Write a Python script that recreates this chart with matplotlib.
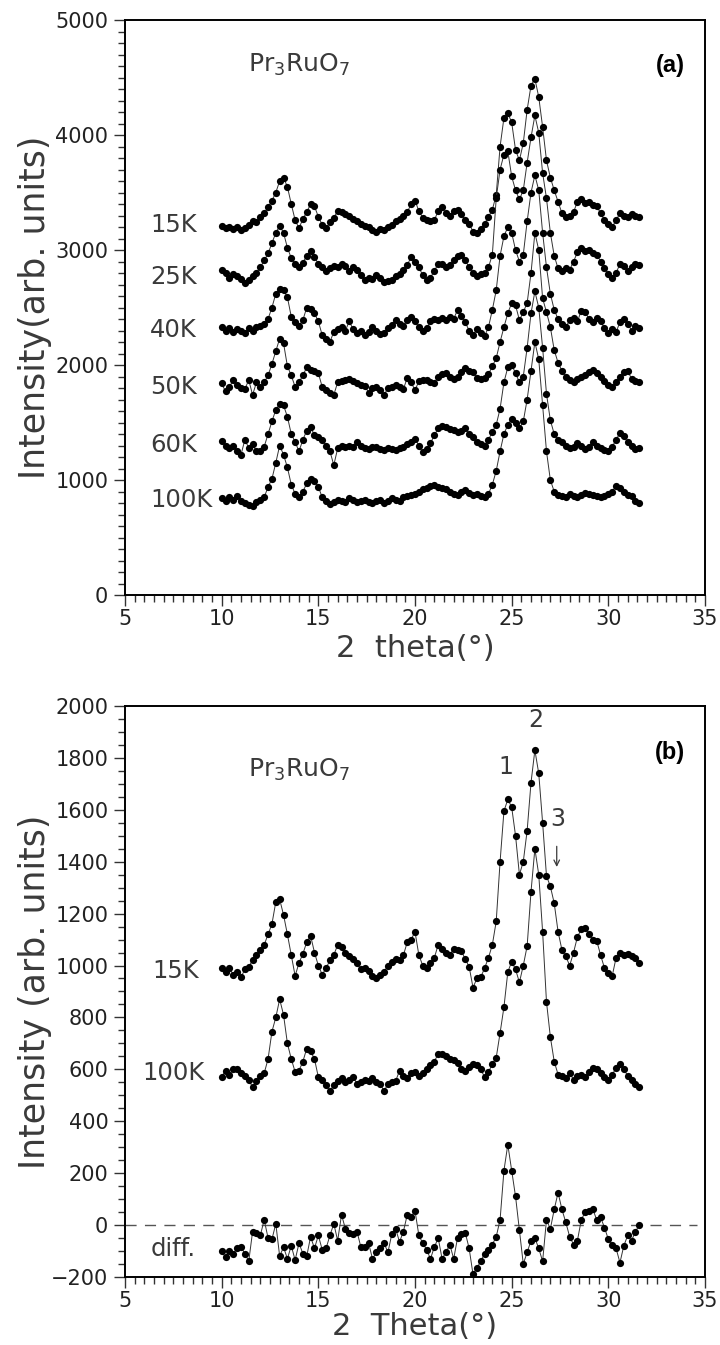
"""Pr3RuO7 powder diffraction scans at several temperatures, two stacked panels."""

import matplotlib

matplotlib.use("Agg")

import matplotlib.pyplot as plt
import numpy as np
from matplotlib.ticker import MultipleLocator

plt.rcParams["font.family"] = ["DejaVu Sans"]
plt.rcParams["mathtext.default"] = "regular"

TWO_THETA_START = 10.0
TWO_THETA_STEP = 0.2

# ---- panel (a): intensity vs 2 theta, one row per degree (x.0 x.2 x.4 x.6 x.8)
A_LABELS = ["15K", "25K", "40K", "50K", "60K", "100K"]
A_LABEL_Y = [3217, 2765, 2304, 1809, 1304, 826]

A_15K = [
    3210, 3190, 3200, 3180, 3200,
    3170, 3190, 3220, 3250, 3240,
    3290, 3320, 3370, 3430, 3500,
    3600, 3630, 3550, 3400, 3260,
    3190, 3270, 3330, 3400, 3380,
    3290, 3220, 3190, 3240, 3280,
    3340, 3330, 3310, 3300, 3270,
    3250, 3230, 3210, 3200, 3170,
    3160, 3180, 3170, 3200, 3220,
    3250, 3270, 3300, 3330, 3400,
    3430, 3340, 3280, 3260, 3250,
    3260, 3340, 3370, 3320, 3300,
    3340, 3350, 3310, 3260, 3230,
    3160, 3150, 3180, 3230, 3290,
    3350, 3480, 3900, 4150, 4190,
    4110, 3870, 3780, 3930, 4220,
    4430, 4490, 4330, 4070, 3780,
    3630, 3520, 3420, 3320, 3290,
    3300, 3330, 3420, 3440, 3410,
    3420, 3390, 3380, 3320, 3260,
    3230, 3200, 3260, 3320, 3300,
    3290, 3310, 3300, 3290,
]
A_25K = [
    2830, 2800, 2760, 2790, 2770,
    2750, 2710, 2740, 2770, 2800,
    2850, 2910, 2970, 3060, 3150,
    3210, 3150, 3020, 2930, 2880,
    2850, 2890, 2950, 2990, 2940,
    2880, 2850, 2820, 2840, 2860,
    2850, 2880, 2860, 2820, 2850,
    2830, 2780, 2740, 2760, 2750,
    2780, 2760, 2720, 2730, 2740,
    2770, 2790, 2830, 2870, 2940,
    2900, 2850, 2780, 2740, 2760,
    2820, 2880, 2880, 2850, 2870,
    2910, 2950, 2960, 2910, 2850,
    2800, 2770, 2790, 2800, 2850,
    2960, 3450, 3700, 3830, 3860,
    3640, 3520, 3440, 3520, 3760,
    3980, 4170, 4020, 3670, 3450,
    3150, 2950, 2840, 2820, 2840,
    2830, 2900, 2980, 3020, 2990,
    3000, 2970, 2960, 2900, 2840,
    2790, 2760, 2800, 2880, 2860,
    2820, 2850, 2880, 2870,
]
A_40K = [
    2330, 2300, 2320, 2290, 2310,
    2300, 2280, 2320, 2300, 2330,
    2340, 2360, 2400, 2500, 2620,
    2660, 2650, 2590, 2420, 2370,
    2340, 2390, 2500, 2490, 2450,
    2380, 2260, 2230, 2200, 2290,
    2310, 2330, 2300, 2380, 2310,
    2280, 2300, 2260, 2290, 2330,
    2300, 2270, 2280, 2320, 2350,
    2390, 2360, 2340, 2390, 2420,
    2380, 2330, 2300, 2320, 2380,
    2400, 2390, 2410, 2390, 2420,
    2400, 2480, 2430, 2370, 2300,
    2260, 2310, 2280, 2250, 2330,
    2480, 2650, 2950, 3120, 3200,
    3150, 3000, 2900, 2960, 3250,
    3500, 3650, 3520, 3150, 2850,
    2620, 2480, 2400, 2360, 2330,
    2390, 2410, 2380, 2470, 2460,
    2400, 2370, 2410, 2380, 2320,
    2280, 2310, 2290, 2370, 2400,
    2360, 2300, 2340, 2320,
]
A_50K = [
    1840, 1770, 1810, 1870, 1830,
    1800, 1790, 1870, 1740, 1850,
    1810, 1850, 1910, 2010, 2120,
    2230, 2190, 1990, 1910, 1810,
    1850, 1910, 1980, 1960, 1950,
    1930, 1810, 1780, 1760, 1740,
    1850, 1860, 1870, 1880, 1860,
    1840, 1830, 1820, 1760, 1800,
    1810, 1780, 1740, 1800, 1810,
    1830, 1810, 1790, 1890, 1850,
    1780, 1860, 1870, 1870, 1850,
    1840, 1900, 1920, 1930, 1900,
    1880, 1900, 1940, 1970, 1950,
    1940, 1890, 1880, 1890, 1920,
    1990, 2060, 2200, 2330, 2450,
    2540, 2520, 2390, 2460, 2540,
    2800, 3150, 3000, 2580, 2460,
    2330, 2130, 2020, 1950, 1900,
    1870, 1850, 1880, 1900, 1910,
    1940, 1960, 1930, 1900, 1860,
    1830, 1810, 1850, 1900, 1940,
    1950, 1880, 1860, 1850,
]
A_60K = [
    1340, 1300, 1275, 1300, 1250,
    1220, 1350, 1280, 1310, 1250,
    1250, 1290, 1400, 1510, 1610,
    1660, 1650, 1550, 1400, 1330,
    1250, 1350, 1430, 1460, 1390,
    1375, 1350, 1300, 1250, 1130,
    1275, 1300, 1290, 1300, 1285,
    1330, 1300, 1280, 1270, 1285,
    1290, 1270, 1260, 1275, 1270,
    1260, 1280, 1290, 1310, 1330,
    1360, 1300, 1240, 1270, 1320,
    1390, 1450, 1470, 1460, 1440,
    1435, 1420, 1430, 1450, 1400,
    1370, 1330, 1310, 1300, 1350,
    1420, 1480, 1620, 1850, 1980,
    2000, 1930, 1850, 1900, 2150,
    2450, 2640, 2500, 2150, 1750,
    1520, 1400, 1350, 1330, 1300,
    1280, 1290, 1320, 1300, 1270,
    1290, 1330, 1300, 1280, 1260,
    1250, 1290, 1350, 1410, 1380,
    1330, 1300, 1270, 1280,
]
A_100K = [
    840, 820, 850, 830, 860,
    820, 800, 780, 770, 810,
    830, 850, 940, 1010, 1150,
    1300, 1220, 1110, 960, 880,
    850, 900, 970, 1010, 990,
    940, 850, 820, 790, 810,
    830, 820, 810, 840, 830,
    810, 820, 830, 810, 800,
    820, 830, 800, 820, 840,
    830, 820, 850, 860, 870,
    880, 900, 920, 930, 950,
    960, 940, 930, 920, 900,
    880, 870, 900, 910, 890,
    870, 880, 860, 850, 880,
    960, 1080, 1250, 1400, 1480,
    1530, 1500, 1450, 1510, 1700,
    1950, 2200, 2050, 1650, 1250,
    1000, 900, 870, 860, 850,
    880, 860, 850, 870, 890,
    880, 870, 860, 850, 860,
    880, 900, 950, 930, 900,
    870, 860, 820, 800,
]

# ---- panel (b): 15K, 100K and their difference
B_LABELS = ["15K", "100K", "diff."]
B_LABEL_X = [6.4, 5.9, 6.3]
B_LABEL_Y = [979, 584, -93]

B_15K = [
    990, 975, 990, 965, 975,
    955, 985, 995, 1020, 1040,
    1060, 1080, 1120, 1160, 1245,
    1255, 1195, 1120, 1040, 960,
    1010, 1045, 1090, 1115, 1050,
    1000, 965, 990, 1020, 1040,
    1080, 1070, 1050, 1035, 1025,
    1010, 985, 990, 980, 960,
    950, 965, 975, 1000, 1015,
    1025, 1020, 1040, 1090, 1100,
    1130, 1040, 1000, 990, 1010,
    1030, 1080, 1065, 1050, 1040,
    1065, 1060, 1055, 1025, 995,
    915, 950, 955, 990, 1030,
    1080, 1170, 1400, 1595, 1640,
    1610, 1500, 1350, 1400, 1520,
    1705, 1830, 1740, 1550, 1345,
    1305, 1240, 1130, 1060, 1035,
    1000, 1050, 1110, 1140, 1145,
    1120, 1100, 1095, 1040, 990,
    970, 960, 1030, 1050, 1040,
    1045, 1035, 1030, 1010,
]
B_100K = [
    570, 595, 580, 600, 600,
    585, 575, 560, 530, 555,
    575, 585, 640, 745, 800,
    870, 810, 700, 640, 590,
    595, 630, 680, 670, 640,
    570, 560, 540, 515, 540,
    555, 565, 550, 560, 570,
    545, 550, 560, 555, 565,
    550, 545, 515, 545, 550,
    555, 595, 575, 565, 585,
    590, 575, 585, 600, 615,
    630, 660, 660, 650, 640,
    635, 625, 600, 595, 610,
    620, 615, 600, 570, 590,
    620, 645, 740, 840, 975,
    1015, 985, 935, 1000, 1075,
    1285, 1450, 1350, 1130, 860,
    725, 630, 580, 575, 565,
    585, 560, 575, 580, 570,
    590, 605, 600, 585, 570,
    560, 580, 605, 620, 600,
    575, 560, 545, 530,
]
B_DIFF = [
    -100, -125, -100, -110, -90,
    -85, -110, -140, -25, -30,
    -40, 20, -50, -55, 5,
    -120, -85, -130, -80, -135,
    -70, -110, -120, -45, -90,
    -40, -95, -90, -40, 5,
    -60, 40, -15, -30, -35,
    -25, -85, -85, -70, -130,
    -105, -90, -70, -105, -35,
    -15, -65, -25, 40, 30,
    55, -40, -70, -95, -130,
    -85, -50, -130, -105, -75,
    -130, -50, -35, -30, -90,
    -190, -165, -140, -110, -95,
    -75, -45, 20, 210, 310,
    210, 110, -20, -150, -105,
    -60, -50, -90, -140, 20,
    -15, 60, 125, 60, 10,
    -45, -75, -60, 20, 50,
    55, 60, 20, 30, -10,
    -55, -75, -90, -145, -80,
    -40, -60, -25, 0,
]

PEAK_LABELS = ["1", "2", "3"]
PEAK_X = [24.7, 26.25, 27.38]
PEAK_Y = [1764, 1946, 1563]

TEXT_GREY = "#3a3a3a"


def two_theta(values):
    return TWO_THETA_START + TWO_THETA_STEP * np.arange(len(values))


def draw_scan(ax, values):
    ax.plot(
        two_theta(values),
        values,
        color="#333333",
        lw=0.7,
        marker="o",
        ms=5.2,
        mfc="black",
        mec="black",
        mew=0,
    )


def style_axes(ax, ylim, ymajor, yminor, xlabel, ylabel, xlabel_y):
    ax.set_xlim(5, 35)
    ax.set_ylim(*ylim)
    ax.xaxis.set_major_locator(MultipleLocator(5))
    ax.xaxis.set_minor_locator(MultipleLocator(0.5))
    ax.yaxis.set_major_locator(MultipleLocator(ymajor))
    ax.yaxis.set_minor_locator(MultipleLocator(yminor))
    ax.tick_params(which="both", direction="out", top=False, right=False,
                   color="#333333", labelcolor="#222222", labelsize=15, width=1)
    ax.tick_params(which="major", length=8)
    ax.tick_params(which="minor", length=5)
    ax.tick_params(axis="x", which="major", pad=2)
    ax.tick_params(axis="y", which="major", pad=4)
    for spine in ax.spines.values():
        spine.set_linewidth(1.4)
    ax.set_xlabel(xlabel, fontsize=22, color=TEXT_GREY)
    ax.xaxis.set_label_coords(0.5, xlabel_y)
    ax.set_ylabel(ylabel, fontsize=25, color=TEXT_GREY)
    ax.yaxis.set_label_coords(-0.125, 0.5)


def main():
    fig = plt.figure(figsize=(7.2, 13.45), dpi=100)
    ax_a = fig.add_axes([0.1736, 0.5576, 0.8056, 0.4275])
    ax_b = fig.add_axes([0.1736, 0.0506, 0.8056, 0.4245])

    # panel (a)
    for values in (A_15K, A_25K, A_40K, A_50K, A_60K, A_100K):
        draw_scan(ax_a, values)
    for label, y in zip(A_LABELS, A_LABEL_Y):
        ax_a.text(6.3, y, label, fontsize=17.5, color=TEXT_GREY, va="center", ha="left")
    ax_a.text(11.37, 4609, r"Pr$_3$RuO$_7$", fontsize=18, color=TEXT_GREY, va="center", ha="left")
    ax_a.text(33.96, 4609, "(a)", fontsize=17, fontweight="bold", family=["Liberation Sans"],
              va="center", ha="right")
    style_axes(ax_a, (0, 5000), 1000, 100, "2  theta(°)", "Intensity(arb. units)", -0.068)

    # panel (b)
    ax_b.plot([5, 34.6], [0, 0], color="#555555", lw=1.0, dashes=(8, 6))
    for values in (B_15K, B_100K, B_DIFF):
        draw_scan(ax_b, values)
    for label, x, y in zip(B_LABELS, B_LABEL_X, B_LABEL_Y):
        ax_b.text(x, y, label, fontsize=17.5, color=TEXT_GREY, va="center", ha="left")
    for label, x, y in zip(PEAK_LABELS, PEAK_X, PEAK_Y):
        ax_b.text(x, y, label, fontsize=17, color=TEXT_GREY, va="center", ha="center")
    ax_b.annotate("", xy=(27.33, 1369), xytext=(27.33, 1470),
                  arrowprops=dict(arrowstyle="->", color=TEXT_GREY, lw=0.9))
    ax_b.text(11.37, 1752, r"Pr$_3$RuO$_7$", fontsize=18, color=TEXT_GREY, va="center", ha="left")
    ax_b.text(33.96, 1822, "(b)", fontsize=17, fontweight="bold", family=["Liberation Sans"],
              va="center", ha="right")
    style_axes(ax_b, (-200, 2000), 200, 50, "2  Theta(°)", "Intensity (arb. units)", -0.062)

    fig.savefig("out.png", dpi=100)
    plt.close(fig)


if __name__ == "__main__":
    main()
